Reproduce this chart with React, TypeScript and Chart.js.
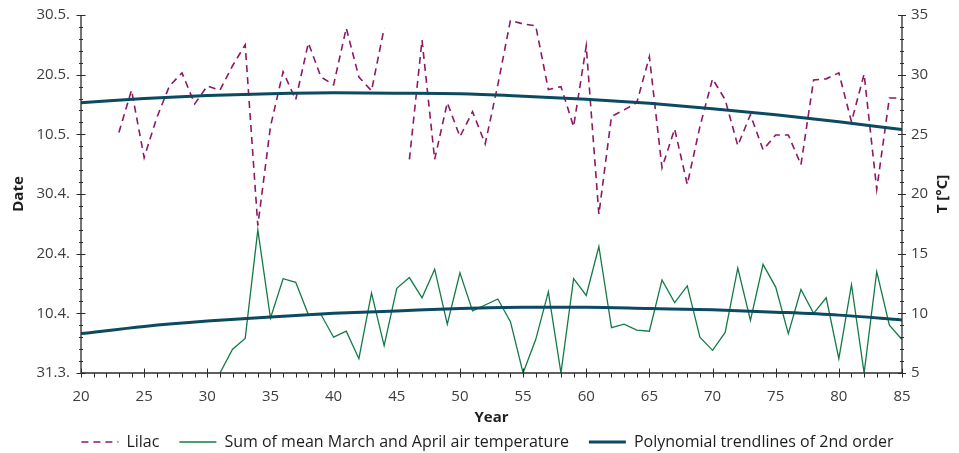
import React, { useEffect, useRef } from 'react';
import { Chart, registerables } from 'chart.js';

Chart.register(...registerables);

// ---------- data ----------
// Lilac flowering date, stored as days after 31 March
const lilacYears = [23, 24, 25, 26, 27, 28, 29, 30, 31, 32, 33, 34, 35, 36, 37, 38, 39, 40, 41, 42, 43, 44, 45, 46, 47, 48, 49, 50, 51, 52, 53, 54, 55, 56, 57, 58, 59, 60, 61, 62, 63, 64, 65, 66, 67, 68, 69, 70, 71, 72, 73, 74, 75, 76, 77, 78, 79, 80, 81, 82, 83, 84, 85];
const lilacDays = [40.3, 47.4, 36.1, 42.8, 48.1, 50.3, 45.1, 48.1, 47.4, 51.5, 55.0, 24.7, 41.3, 50.5, 45.8, 55.3, 49.6, 48.3, 57.8, 49.6, 47.3, 57.8, null, 35.8, 55.8, 35.8, 45.3, 39.6, 43.8, 38.4, 48.3, 59.1, 58.5, 58.2, 47.5, 48.0, 41.3, 54.8, 26.6, 43.0, 44.1, 45.3, 53.0, 34.4, 40.9, 31.6, 41.3, 49.3, 45.8, 38.1, 43.3, 37.4, 39.9, 39.9, 34.9, 49.1, 49.3, 50.3, 42.1, 50.1, 30.8, 46.1, 46.1];

// Sum of mean March and April air temperature (°C)
const tempYears = [31, 32, 33, 34, 35, 36, 37, 38, 39, 40, 41, 42, 43, 44, 45, 46, 47, 48, 49, 50, 51, 52, 53, 54, 55, 56, 57, 58, 59, 60, 61, 62, 63, 64, 65, 66, 67, 68, 69, 70, 71, 72, 73, 74, 75, 76, 77, 78, 79, 80, 81, 82, 83, 84, 85];
const tempValues = [5.0, 7.0, 7.9, 17.0, 9.6, 12.9, 12.6, 9.9, 9.9, 8.0, 8.5, 6.2, 11.7, 7.3, 12.1, 13.0, 11.3, 13.7, 9.1, 13.4, 10.2, 10.7, 11.2, 9.3, 5.0, 7.8, 11.8, 5.0, 12.9, 11.5, 15.6, 8.8, 9.1, 8.6, 8.5, 12.8, 10.9, 12.3, 8.0, 6.9, 8.4, 13.8, 9.4, 14.1, 12.2, 8.3, 12.0, 10.0, 11.3, 6.2, 12.4, 5.0, 13.5, 9.0, 7.8];

// 2nd order polynomial trendlines, read every 5 years
const trendYears = [20, 25, 30, 35, 40, 45, 50, 55, 60, 65, 70, 75, 80, 85];
const lilacTrend = [45.3, 46.0, 46.5, 46.8, 46.95, 46.9, 46.8, 46.4, 45.9, 45.2, 44.3, 43.3, 42.1, 40.8];
const tempTrend = [8.3, 8.9, 9.35, 9.7, 10.0, 10.2, 10.4, 10.5, 10.5, 10.4, 10.3, 10.1, 9.85, 9.45];

const dateTickLabels = ['31.3.', '10.4.', '20.4.', '30.4.', '10.5.', '20.5.', '30.5.'];

const seriesLabels = ['Lilac', 'Sum of mean March and April air temperature', 'Polynomial trendlines of 2nd order'];

// ---------- styles ----------
const FONT = 'Open Sans';
const TICK_COLOR = '#3d3d3d';
const TITLE_COLOR = '#1e1e1e';
const AXIS_COLOR = '#2b2b2b';
const LILAC_COLOR = '#8c1866';
const TEMP_COLOR = '#137a47';
const TREND_COLOR = '#0c4a62';

const toPoints = (xs: number[], ys: (number | null)[]) => xs.map((x, i) => ({ x, y: ys[i] }));

const axisDecor = {
  id: 'axisDecor',
  afterDraw(chart: any) {
    const { ctx, chartArea: a } = chart;
    const xs = chart.scales.x;
    const ys = chart.scales.y;
    const y1 = chart.scales.y1;
    ctx.save();
    ctx.strokeStyle = AXIS_COLOR;
    ctx.lineWidth = 1.3;
    ctx.beginPath();
    ctx.moveTo(a.left, a.top);
    ctx.lineTo(a.left, a.bottom);
    ctx.lineTo(a.right, a.bottom);
    ctx.lineTo(a.right, a.top);
    ctx.stroke();

    ctx.lineWidth = 1;
    ctx.beginPath();
    // x axis
    for (let v = xs.min; v <= xs.max + 1e-6; v += 1) {
      const px = Math.round(xs.getPixelForValue(v)) + 0.5;
      const major = Math.abs(v % 5) < 1e-6;
      ctx.moveTo(px, a.bottom + 4.5);
      ctx.lineTo(px, a.bottom - (major ? 4.5 : 0));
    }
    // left axis
    for (let v = ys.min; v <= ys.max + 1e-6; v += 2) {
      const py = Math.round(ys.getPixelForValue(v)) + 0.5;
      const major = Math.abs(v % 10) < 1e-6;
      const l = major ? 4.5 : 2;
      ctx.moveTo(a.left - l, py);
      ctx.lineTo(a.left + l, py);
    }
    // right axis
    for (let v = y1.min; v <= y1.max + 1e-6; v += 1) {
      const py = Math.round(y1.getPixelForValue(v)) + 0.5;
      const major = Math.abs(v % 5) < 1e-6;
      const l = major ? 4 : 2;
      ctx.moveTo(a.right - l, py);
      ctx.lineTo(a.right + l, py);
    }
    ctx.stroke();

    // right axis title, reading bottom to top
    ctx.fillStyle = TITLE_COLOR;
    ctx.font = `bold 15px "${FONT}"`;
    ctx.textAlign = 'center';
    ctx.textBaseline = 'middle';
    ctx.translate(y1.right - 16, (a.top + a.bottom) / 2);
    ctx.rotate(-Math.PI / 2);
    ctx.fillText('T [°C]', 0, 0);
    ctx.restore();
  },
};

export default function App() {
  const ref = useRef<HTMLCanvasElement>(null);

  useEffect(() => {
    document.body.style.margin = '0';
    const tickFont = { family: FONT, size: 15 };
    const legendFont = { family: FONT, size: 16 };
    const titleFont = { family: FONT, size: 15, weight: 'bold' as const };
    const hiddenGrid = { display: true, drawOnChartArea: false, drawTicks: true, tickLength: 5, color: 'rgba(0,0,0,0)' };
    const defaultLabels = (Chart.defaults.plugins.legend.labels as any).generateLabels;

    const chart = new Chart(ref.current as HTMLCanvasElement, {
      type: 'line',
      data: {
        datasets: [
          {
            label: seriesLabels[0],
            data: toPoints(lilacYears, lilacDays),
            yAxisID: 'y',
            borderColor: LILAC_COLOR,
            borderWidth: 1.6,
            borderDash: [7, 5],
            pointRadius: 0,
            spanGaps: false,
            order: 2,
          },
          {
            label: seriesLabels[1],
            data: toPoints(tempYears, tempValues),
            yAxisID: 'y1',
            borderColor: TEMP_COLOR,
            borderWidth: 1.3,
            pointRadius: 0,
            order: 1,
          },
          {
            label: seriesLabels[2],
            data: toPoints(trendYears, lilacTrend),
            yAxisID: 'y',
            borderColor: TREND_COLOR,
            borderWidth: 3,
            pointRadius: 0,
            cubicInterpolationMode: 'monotone',
            order: 0,
          },
          {
            label: seriesLabels[2] + ' (T)',
            data: toPoints(trendYears, tempTrend),
            yAxisID: 'y1',
            borderColor: TREND_COLOR,
            borderWidth: 3,
            pointRadius: 0,
            cubicInterpolationMode: 'monotone',
            order: 0,
          },
        ],
      },
      options: {
        animation: false,
        responsive: false,
        layout: { padding: { top: 15, bottom: -7, left: 16, right: 0 } },
        plugins: {
          legend: {
            position: 'bottom',
            labels: {
              usePointStyle: true,
              pointStyle: 'line',
              pointStyleWidth: 37,
              padding: 20,
              color: TITLE_COLOR,
              font: legendFont,
              sort: (a: any, b: any) => a.datasetIndex - b.datasetIndex,
              filter: (item: any) => item.datasetIndex !== 3,
              generateLabels: (c: any) =>
                defaultLabels(c).map((item: any) => {
                  const ds = c.data.datasets[item.datasetIndex];
                  return {
                    ...item,
                    lineDash: ds.borderDash || [],
                    lineWidth: ds.borderWidth,
                    strokeStyle: ds.borderColor,
                  };
                }),
            },
          },
          tooltip: { enabled: false },
        },
        scales: {
          x: {
            type: 'linear',
            min: 20,
            max: 85,
            ticks: { stepSize: 5, padding: 10, color: TICK_COLOR, font: tickFont },
            grid: hiddenGrid,
            border: { display: false },
            title: { display: true, text: 'Year', color: TITLE_COLOR, font: titleFont, padding: { top: 0, bottom: -13 } },
            afterFit: (s: any) => { s.height = 41; },
          },
          y: {
            type: 'linear',
            position: 'left',
            min: 0,
            max: 60,
            ticks: {
              stepSize: 10,
              padding: 6,
              color: TICK_COLOR,
              font: tickFont,
              callback: (v: any) => dateTickLabels[Math.round(Number(v) / 10)],
            },
            grid: hiddenGrid,
            border: { display: false },
            title: { display: true, text: 'Date', color: TITLE_COLOR, font: titleFont, padding: { top: -6, bottom: 0 } },
            afterFit: (s: any) => { s.width = 65; },
          },
          y1: {
            type: 'linear',
            position: 'right',
            min: 5,
            max: 35,
            ticks: { stepSize: 5, padding: 4, color: TICK_COLOR, font: tickFont },
            grid: hiddenGrid,
            border: { display: false },
            afterFit: (s: any) => { s.width = 57; },
          },
        },
      },
      plugins: [axisDecor],
    });
    return () => chart.destroy();
  }, []);

  return (
    <div style={{ width: 959, height: 453 }}>
      <canvas ref={ref} width={959} height={453} style={{ display: 'block' }} />
    </div>
  );
}
